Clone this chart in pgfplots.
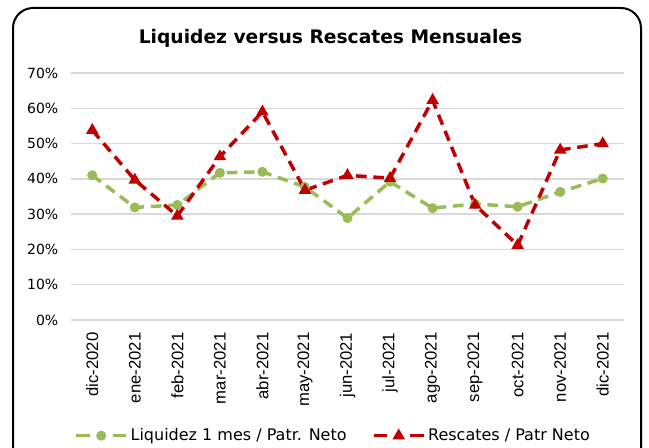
\documentclass[border=0pt]{standalone}
\usepackage{pgfplots}
\pgfplotsset{compat=1.18}
\usepackage{fontspec}
\setmainfont{DejaVu Sans}
\newfontfamily\tickfont{Liberation Sans}
\definecolor{lgreen}{HTML}{9BBB59}
\definecolor{lred}{HTML}{C00000}
\definecolor{gridgray}{HTML}{D9D9D9}
\begin{document}
\begin{tikzpicture}
\useasboundingbox (0,0) rectangle (486.75pt,335.25pt);
\clip (0,0) rectangle (486.75pt,335.25pt);
\fill[white] (0,0) rectangle (486.75pt,335.25pt);
\draw[line width=1.5pt, rounded corners=15pt] (9.75pt,-40pt) rectangle (480.75pt,329.25pt);
\node[font=\bfseries\fontsize{14}{16}\selectfont] at (247.9pt,306.75pt) {Liquidez versus Rescates Mensuales};
\begin{axis}[
  at={(53.25pt,95.25pt)}, anchor=south west,
  scale only axis, width=414.75pt, height=185.25pt,
  xmin=-0.5, xmax=12.5, ymin=0, ymax=0.7,
  xtick={0,1,2,3,4,5,6,7,8,9,10,11,12},
  xticklabels={dic-2020,ene-2021,feb-2021,mar-2021,abr-2021,may-2021,jun-2021,jul-2021,ago-2021,sep-2021,oct-2021,nov-2021,dic-2021},
  ytick={0,0.1,0.2,0.3,0.4,0.5,0.6,0.7},
  yticklabels={0\%,10\%,20\%,30\%,40\%,50\%,60\%,70\%},
  xticklabel style={rotate=90, anchor=east, font=\tickfont\fontsize{12.5}{14}\selectfont},
  yticklabel style={font=\fontsize{10.5}{12}\selectfont},
  xticklabel shift=6pt,
  yticklabel shift=6pt,
  ymajorgrids, grid style={draw=gridgray, line width=1pt},
  axis line style={draw=none}, tick style={draw=none},
  clip=false,
  legend columns=2,
  legend style={at={(0.5,0)}, anchor=center, xshift=-10.5pt, yshift=-86.75pt, draw=none, fill=none,
    font=\fontsize{12}{14}\selectfont,
    /tikz/every even column/.append style={column sep=17pt}},
  legend image code/.code={
    \draw[#1, dash pattern=on 10pt off 17.5pt] plot[mark repeat=2, mark phase=2] coordinates {(0pt,0pt) (18.75pt,0pt) (37.5pt,0pt)};
  },
]
\addplot[lgreen, line width=2.6pt, dash pattern=on 8pt off 5pt, mark=*, mark size=2.4pt, mark options={solid}]
  coordinates {(0,0.410) (1,0.319) (2,0.326) (3,0.417) (4,0.420) (5,0.377) (6,0.289) (7,0.392) (8,0.317) (9,0.329) (10,0.321) (11,0.363) (12,0.401)};
\addlegendentry{Liquidez 1 mes / Patr. Neto}
\addplot[lred, line width=2.6pt, dash pattern=on 8pt off 5pt, mark=triangle*, mark size=2.8pt, mark options={solid}]
  coordinates {(0,0.538) (1,0.397) (2,0.295) (3,0.463) (4,0.590) (5,0.368) (6,0.410) (7,0.402) (8,0.623) (9,0.326) (10,0.212) (11,0.482) (12,0.500)};
\addlegendentry{Rescates / Patr Neto}
\end{axis}
\end{tikzpicture}
\end{document}
